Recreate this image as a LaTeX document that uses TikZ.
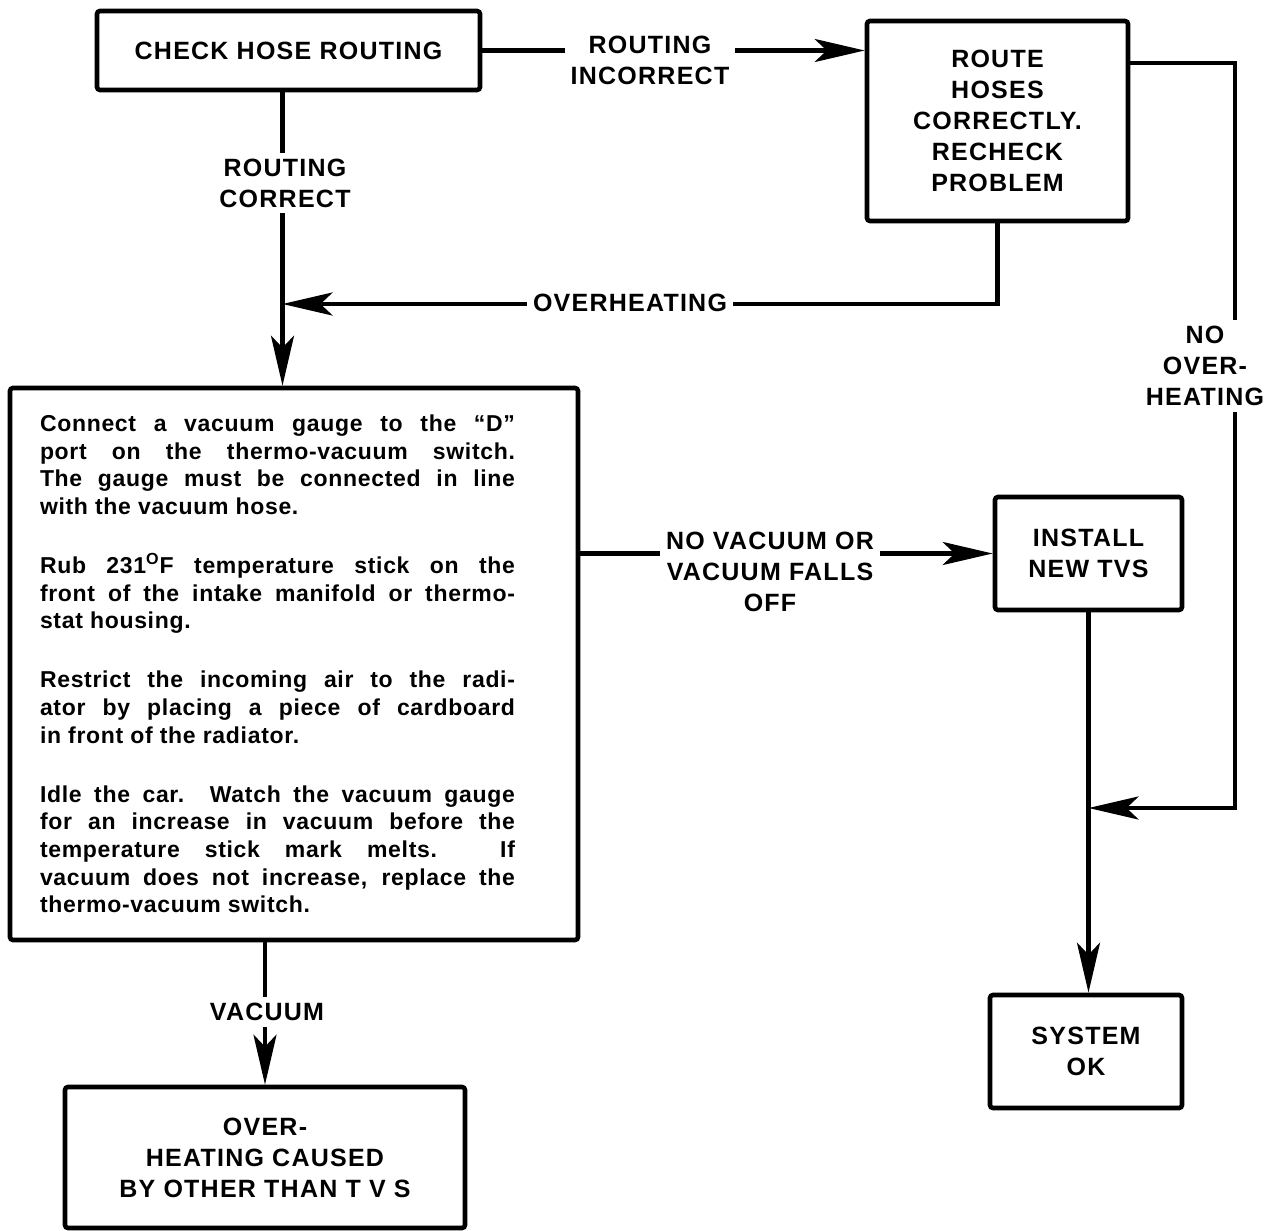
\documentclass[tikz,border=0pt]{standalone}
\usepackage{fontspec}
\setmainfont{Liberation Sans}
\newfontfamily\capsfamily[LetterSpace=5,BoldFont={* Bold}]{Liberation Sans}
\newfontfamily\bodyfamily[LetterSpace=3]{Liberation Sans}
\usetikzlibrary{arrows.meta}

\begin{document}
\begin{tikzpicture}[x=0.5pt,y=-0.5pt,
  box/.style={draw,line width=2.3pt,rounded corners=1.5pt,inner sep=0pt,
    font=\capsfamily\bfseries\fontsize{12.5}{15.5}\selectfont},
  cbox/.style={box,align=center},
  lbl/.style={fill=white,inner sep=3pt,align=center,
    font=\capsfamily\bfseries\fontsize{12.5}{15.5}\selectfont},
  arr/.style={line width=2.3pt,-{Stealth[length=25pt,width=11.5pt,inset=6pt]}}]
\useasboundingbox (0,0) rectangle (1282,1231);

% boxes
\node[cbox,minimum width=191.5pt,minimum height=39.5pt] (chk) at (288.5,50.5) {CHECK HOSE ROUTING};
\node[cbox,minimum width=130.5pt,minimum height=100pt] (rte) at (997.5,121) {ROUTE\\HOSES\\CORRECTLY.\\RECHECK\\PROBLEM};
\node[box,minimum width=284pt,minimum height=276pt,inner xsep=15pt] (main) at (294,664) {%
  \begin{minipage}{237.5pt}
  \bodyfamily\bfseries\fontsize{11.5}{13.85}\selectfont
  \setlength{\parskip}{15.6pt}\setlength{\parindent}{0pt}%
  \leftskip=0pt \rightskip=0pt \tolerance=10000 \hbadness=10000
  \hyphenpenalty=10000 \exhyphenpenalty=10000
  Connect a vacuum gauge to the “D”\linebreak
  port on the thermo-vacuum switch.\linebreak
  The gauge must be connected in line\linebreak
  with the vacuum hose.\par
  Rub 231\textsuperscript{O}F temperature stick on the\linebreak
  front of the intake manifold or thermo-\linebreak
  stat housing.\par
  Restrict the incoming air to the radi-\linebreak
  ator by placing a piece of cardboard\linebreak
  in front of the radiator.\par
  Idle the car.  Watch the vacuum gauge\linebreak
  for an increase in vacuum before the\linebreak
  temperature stick mark melts.  If\linebreak
  vacuum does not increase, replace the\linebreak
  thermo-vacuum switch.\par
  \end{minipage}\hspace*{16.5pt}};
\node[cbox,minimum width=93.5pt,minimum height=56.5pt] (ins) at (1088.5,553.5) {INSTALL\\NEW TVS};
\node[cbox,minimum width=96pt,minimum height=56.5pt] (sysok) at (1086,1051.5) {SYSTEM\\OK};
\node[cbox,minimum width=200pt,minimum height=70.5pt] (other) at (265,1157.5) {OVER-\\HEATING CAUSED\\BY OTHER THAN T V S};

% helper points
\coordinate (cdn) at ([xshift=-3pt]chk.south);
\coordinate (yover) at (0,304);
\coordinate (yhi) at (0,63);
\coordinate (yok) at (0,808);
\coordinate (xr) at (1235,0);
\coordinate (jover) at (cdn |- yover);
\coordinate (jok) at (ins.south |- yok);

% connectors
\draw[arr] (chk.east) -- (chk.east -| rte.west);
\node[lbl] (lri) at (650,60) {ROUTING\\INCORRECT};
\draw[arr] (cdn) -- (cdn |- main.north);
\node[lbl] (lrc) at (285,183) {ROUTING\\CORRECT};
\draw[arr] (rte.south) |- (jover);
\node[lbl] (lov) at (630,303) {OVERHEATING};
\draw[arr] (rte.east |- yhi) -| (xr |- yok) -- (jok);
\node[lbl] (lno) at (1205,366) {NO\\OVER-\\HEATING};
\draw[arr] (main.east |- ins.west) -- (ins.west);
\node[lbl] (lnv) at (770,572) {NO VACUUM OR\\VACUUM FALLS\\OFF};
\draw[arr] (ins.south) -- (ins.south |- sysok.north);
\draw[arr] (other.north |- main.south) -- (other.north);
\node[lbl] (lvac) at (267,1012) {VACUUM};
\end{tikzpicture}
\end{document}
